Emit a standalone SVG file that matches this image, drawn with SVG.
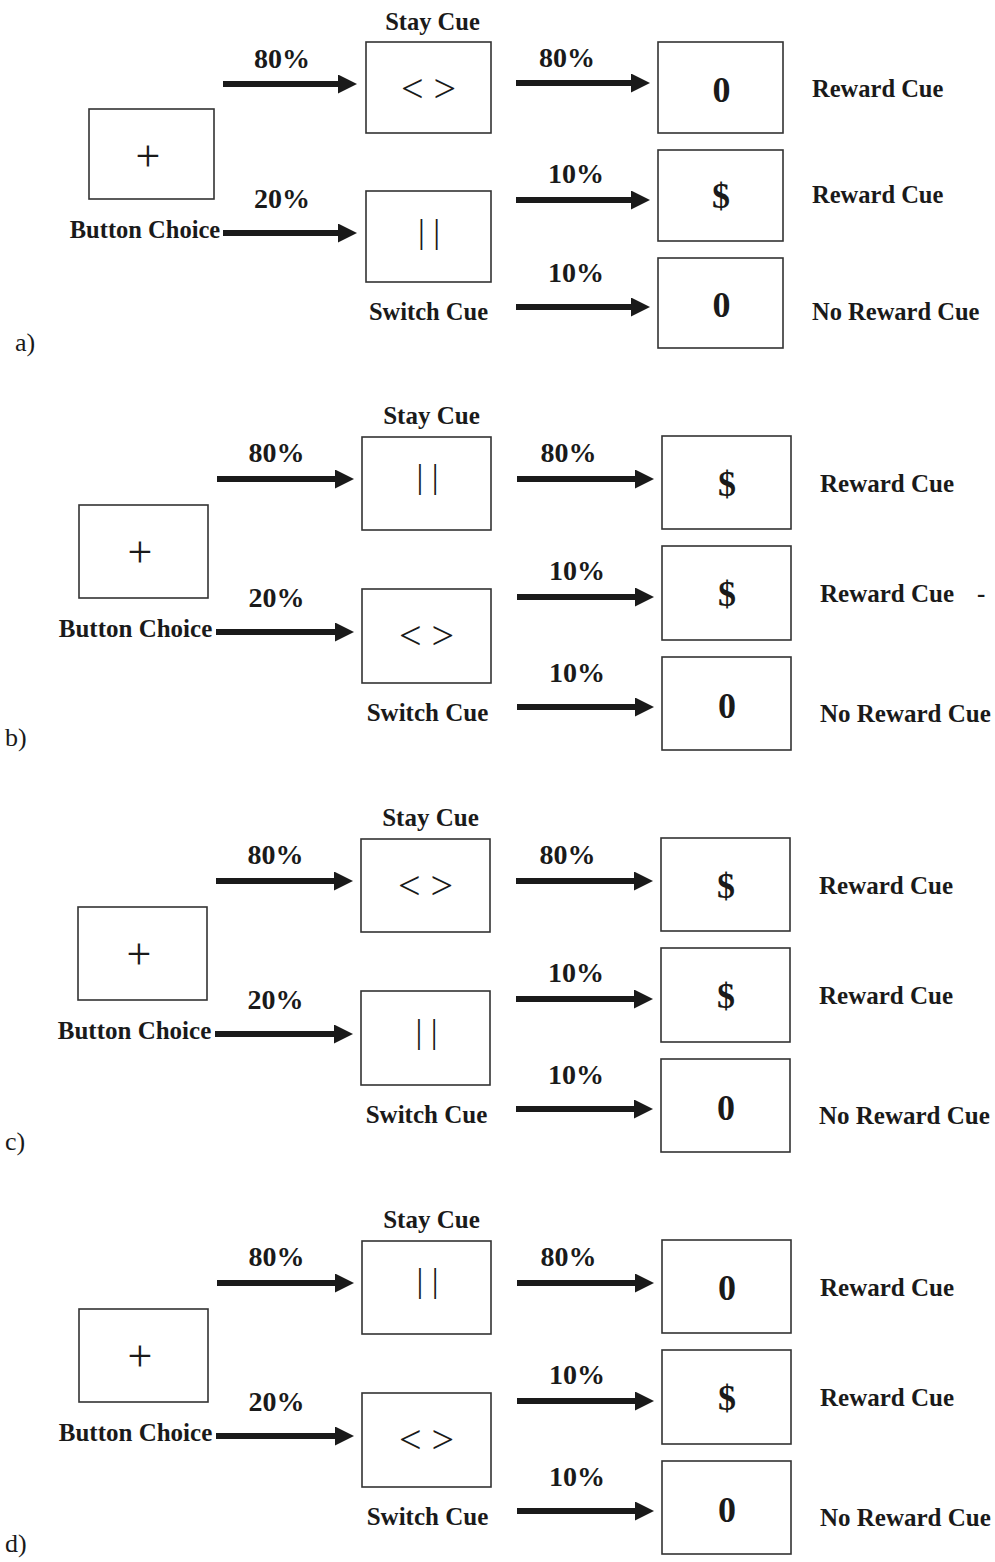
<svg xmlns="http://www.w3.org/2000/svg" width="995" height="1562" viewBox="0 0 995 1562">
<style>
  text { font-family: "Liberation Serif", "Times New Roman", serif; fill: #1a1a1a; }
  .lbl { font-weight: bold; font-size: 25px; }
  .lbla { font-weight: bold; font-size: 24.5px; }
  .pct { font-weight: bold; font-size: 28px; text-anchor: middle; }
  .mid { text-anchor: middle; }
  .plus { font-size: 44px; text-anchor: middle; }
  .sym { font-size: 40px; text-anchor: middle; }
  .bar { font-size: 34px; text-anchor: middle; }
  .big { font-weight: bold; font-size: 36px; text-anchor: middle; }
  .panel { font-size: 26px; }
  .box { fill: #fff; stroke: #333; stroke-width: 1.6; }
  .arr { stroke: #1a1a1a; stroke-width: 6; fill: none; marker-end: url(#head); }
</style>
<defs>
  <marker id="head" markerUnits="userSpaceOnUse" markerWidth="20" markerHeight="20" refX="9" refY="9.5" orient="auto">
    <path d="M0,0 L19,9.5 L0,19 Z" fill="#1a1a1a"/>
  </marker>
</defs>
<rect width="995" height="1562" fill="#fff"/>

<!-- Panel labels -->
<g id="panel-labels">
  <text class="panel" x="15" y="351">a)</text>
  <text class="panel" x="5" y="746">b)</text>
  <text class="panel" x="5" y="1150">c)</text>
  <text class="panel" x="5" y="1552">d)</text>
</g>

<!-- Panel a -->
<g id="panel-a">
  <g id="a-connectors">
    <line class="arr" x1="223" y1="84" x2="347" y2="84"/>
    <line class="arr" x1="223" y1="233" x2="347" y2="233"/>
    <line class="arr" x1="516" y1="83" x2="640" y2="83"/>
    <line class="arr" x1="516" y1="200" x2="640" y2="200"/>
    <line class="arr" x1="516" y1="307" x2="640" y2="307"/>
    <text class="pct" x="282" y="68">80%</text>
    <text class="pct" x="282" y="208">20%</text>
    <text class="pct" x="567" y="67">80%</text>
    <text class="pct" x="576" y="183">10%</text>
    <text class="pct" x="576" y="282">10%</text>
  </g>
  <g id="a-button">
    <rect class="box" x="89" y="109" width="125" height="90"/>
    <text class="plus" x="148" y="171">+</text>
    <text class="lbla mid" x="145" y="238">Button Choice</text>
  </g>
  <g id="a-stay">
    <rect class="box" x="366" y="42" width="125" height="91"/>
    <text class="sym" x="428.5" y="102">&lt; &gt;</text>
    <text class="lbla mid" x="432.5" y="30">Stay Cue</text>
  </g>
  <g id="a-switch">
    <rect class="box" x="366" y="191" width="125" height="91"/>
    <text class="bar" x="429" y="243">| |</text>
    <text class="lbla mid" x="428.5" y="320">Switch Cue</text>
  </g>
  <g id="a-out1">
    <rect class="box" x="658" y="42" width="125" height="91"/>
    <text class="big" x="721.5" y="102">0</text>
    <text class="lbla" x="812" y="97">Reward Cue</text>
  </g>
  <g id="a-out2">
    <rect class="box" x="658" y="150" width="125" height="91"/>
    <text class="big" x="721" y="208">$</text>
    <text class="lbla" x="812" y="203">Reward Cue</text>
  </g>
  <g id="a-out3">
    <rect class="box" x="658" y="258" width="125" height="90"/>
    <text class="big" x="721.5" y="317">0</text>
    <text class="lbla" x="812" y="320">No Reward Cue</text>
  </g>
</g>

<!-- Panel b -->
<g id="panel-b">
  <g id="b-connectors">
    <line class="arr" x1="217" y1="479" x2="344" y2="479"/>
    <line class="arr" x1="216" y1="632" x2="344" y2="632"/>
    <line class="arr" x1="517" y1="479" x2="644" y2="479"/>
    <line class="arr" x1="517" y1="597" x2="644" y2="597"/>
    <line class="arr" x1="517" y1="707" x2="644" y2="707"/>
    <text class="pct" x="276.5" y="462">80%</text>
    <text class="pct" x="276.5" y="607">20%</text>
    <text class="pct" x="568.5" y="462">80%</text>
    <text class="pct" x="577" y="580">10%</text>
    <text class="pct" x="577" y="682">10%</text>
  </g>
  <g id="b-button">
    <rect class="box" x="79" y="505" width="129" height="93"/>
    <text class="plus" x="140" y="567">+</text>
    <text class="lbl mid" x="135.5" y="637">Button Choice</text>
  </g>
  <g id="b-stay">
    <rect class="box" x="362" y="437" width="129" height="93"/>
    <text class="bar" x="427.5" y="488">| |</text>
    <text class="lbl mid" x="431.5" y="424">Stay Cue</text>
  </g>
  <g id="b-switch">
    <rect class="box" x="362" y="589" width="129" height="94"/>
    <text class="sym" x="426.5" y="649">&lt; &gt;</text>
    <text class="lbl mid" x="427.5" y="721">Switch Cue</text>
  </g>
  <g id="b-out1">
    <rect class="box" x="662" y="436" width="129" height="93"/>
    <text class="big" x="727" y="496">$</text>
    <text class="lbl" x="820" y="492">Reward Cue</text>
  </g>
  <g id="b-out2">
    <rect class="box" x="662" y="546" width="129" height="94"/>
    <text class="big" x="727" y="606">$</text>
    <text class="lbl" x="820" y="602">Reward Cue</text>
    <text class="lbl" x="977" y="602">-</text>
  </g>
  <g id="b-out3">
    <rect class="box" x="662" y="657" width="129" height="93"/>
    <text class="big" x="727" y="718">0</text>
    <text class="lbl" x="820" y="722">No Reward Cue</text>
  </g>
</g>

<!-- Panel c -->
<g id="panel-c" transform="translate(-1,402)">
  <g id="c-connectors">
    <line class="arr" x1="217" y1="479" x2="344" y2="479"/>
    <line class="arr" x1="216" y1="632" x2="344" y2="632"/>
    <line class="arr" x1="517" y1="479" x2="644" y2="479"/>
    <line class="arr" x1="517" y1="597" x2="644" y2="597"/>
    <line class="arr" x1="517" y1="707" x2="644" y2="707"/>
    <text class="pct" x="276.5" y="462">80%</text>
    <text class="pct" x="276.5" y="607">20%</text>
    <text class="pct" x="568.5" y="462">80%</text>
    <text class="pct" x="577" y="580">10%</text>
    <text class="pct" x="577" y="682">10%</text>
  </g>
  <g id="c-button">
    <rect class="box" x="79" y="505" width="129" height="93"/>
    <text class="plus" x="140" y="567">+</text>
    <text class="lbl mid" x="135.5" y="637">Button Choice</text>
  </g>
  <g id="c-stay">
    <rect class="box" x="362" y="437" width="129" height="93"/>
    <text class="sym" x="426.5" y="497">&lt; &gt;</text>
    <text class="lbl mid" x="431.5" y="424">Stay Cue</text>
  </g>
  <g id="c-switch">
    <rect class="box" x="362" y="589" width="129" height="94"/>
    <text class="bar" x="427.5" y="641">| |</text>
    <text class="lbl mid" x="427.5" y="721">Switch Cue</text>
  </g>
  <g id="c-out1">
    <rect class="box" x="662" y="436" width="129" height="93"/>
    <text class="big" x="727" y="496">$</text>
    <text class="lbl" x="820" y="492">Reward Cue</text>
  </g>
  <g id="c-out2">
    <rect class="box" x="662" y="546" width="129" height="94"/>
    <text class="big" x="727" y="606">$</text>
    <text class="lbl" x="820" y="602">Reward Cue</text>
  </g>
  <g id="c-out3">
    <rect class="box" x="662" y="657" width="129" height="93"/>
    <text class="big" x="727" y="718">0</text>
    <text class="lbl" x="820" y="722">No Reward Cue</text>
  </g>
</g>

<!-- Panel d -->
<g id="panel-d" transform="translate(0,804)">
  <g id="d-connectors">
    <line class="arr" x1="217" y1="479" x2="344" y2="479"/>
    <line class="arr" x1="216" y1="632" x2="344" y2="632"/>
    <line class="arr" x1="517" y1="479" x2="644" y2="479"/>
    <line class="arr" x1="517" y1="597" x2="644" y2="597"/>
    <line class="arr" x1="517" y1="707" x2="644" y2="707"/>
    <text class="pct" x="276.5" y="462">80%</text>
    <text class="pct" x="276.5" y="607">20%</text>
    <text class="pct" x="568.5" y="462">80%</text>
    <text class="pct" x="577" y="580">10%</text>
    <text class="pct" x="577" y="682">10%</text>
  </g>
  <g id="d-button">
    <rect class="box" x="79" y="505" width="129" height="93"/>
    <text class="plus" x="140" y="567">+</text>
    <text class="lbl mid" x="135.5" y="637">Button Choice</text>
  </g>
  <g id="d-stay">
    <rect class="box" x="362" y="437" width="129" height="93"/>
    <text class="bar" x="427.5" y="488">| |</text>
    <text class="lbl mid" x="431.5" y="424">Stay Cue</text>
  </g>
  <g id="d-switch">
    <rect class="box" x="362" y="589" width="129" height="94"/>
    <text class="sym" x="426.5" y="649">&lt; &gt;</text>
    <text class="lbl mid" x="427.5" y="721">Switch Cue</text>
  </g>
  <g id="d-out1">
    <rect class="box" x="662" y="436" width="129" height="93"/>
    <text class="big" x="727" y="496">0</text>
    <text class="lbl" x="820" y="492">Reward Cue</text>
  </g>
  <g id="d-out2">
    <rect class="box" x="662" y="546" width="129" height="94"/>
    <text class="big" x="727" y="606">$</text>
    <text class="lbl" x="820" y="602">Reward Cue</text>
  </g>
  <g id="d-out3">
    <rect class="box" x="662" y="657" width="129" height="93"/>
    <text class="big" x="727" y="718">0</text>
    <text class="lbl" x="820" y="722">No Reward Cue</text>
  </g>
</g>
</svg>
